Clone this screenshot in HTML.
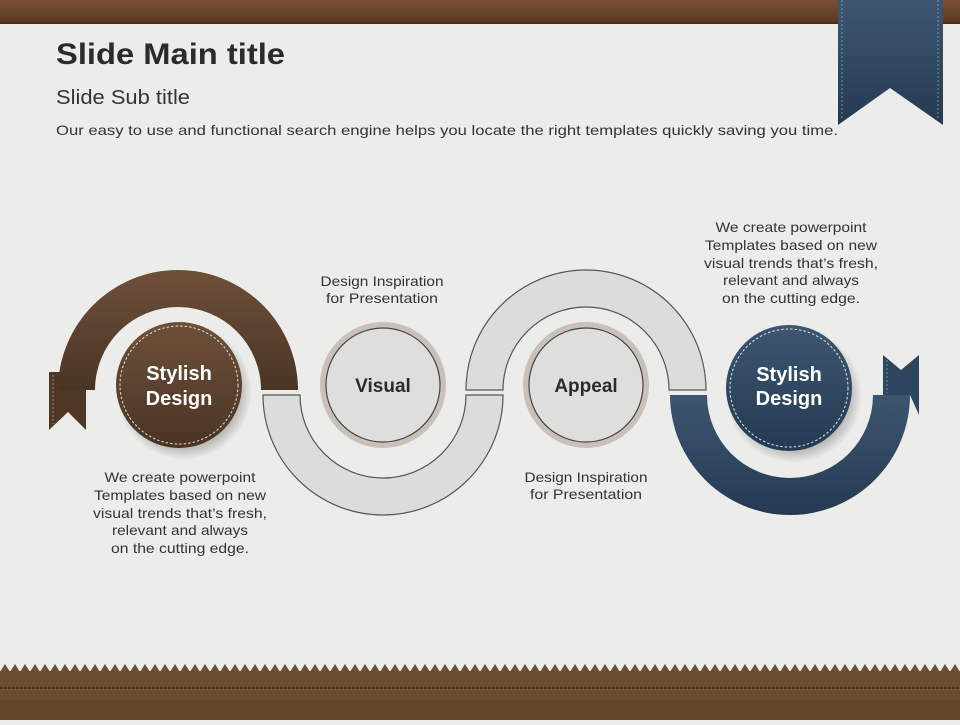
<!DOCTYPE html>
<html><head><meta charset="utf-8"><style>
html,body{margin:0;padding:0;}
body{width:960px;height:720px;overflow:hidden;background:#ececeb;font-family:"Liberation Sans","DejaVu Sans",sans-serif;}
</style></head><body>
<svg width="960" height="720" viewBox="0 0 960 720" xmlns="http://www.w3.org/2000/svg" font-family="Liberation Sans, DejaVu Sans, sans-serif">
<defs>
<linearGradient id="br" x1="0" y1="0" x2="0" y2="1"><stop offset="0" stop-color="#6e5039"/><stop offset="1" stop-color="#4a3424"/></linearGradient>
<linearGradient id="bl" x1="0" y1="0" x2="0" y2="1"><stop offset="0" stop-color="#3d5670"/><stop offset="1" stop-color="#243a52"/></linearGradient>
<linearGradient id="bar" x1="0" y1="0" x2="0" y2="1"><stop offset="0" stop-color="#7a4f34"/><stop offset="1" stop-color="#5a3620"/></linearGradient>
<radialGradient id="sh"><stop offset="0.7" stop-color="#000" stop-opacity="0.35"/><stop offset="1" stop-color="#000" stop-opacity="0"/></radialGradient>
<pattern id="zz" x="0" y="660" width="10" height="12" patternUnits="userSpaceOnUse"><polygon points="0,12 5,4 10,12" fill="#6b5038"/></pattern>
</defs>
<rect width="960" height="720" fill="#ececeb"/>
<rect x="0" y="0" width="960" height="24" fill="url(#bar)"/>
<rect x="0" y="22" width="960" height="2" fill="#4a2c18"/>
<polygon points="838,0 943,0 943,125 890,88 838,125" fill="url(#bl)"/>
<line x1="842" y1="0" x2="842" y2="118" stroke="#8ea3b8" stroke-dasharray="2,2" stroke-width="0.8"/>
<line x1="938" y1="0" x2="938" y2="118" stroke="#8ea3b8" stroke-dasharray="2,2" stroke-width="0.8"/>
<text x="56" y="64" font-size="30" font-weight="bold" fill="#2b2b2b" textLength="229" lengthAdjust="spacingAndGlyphs">Slide Main title</text>
<text x="56" y="104" font-size="20" fill="#333" textLength="134" lengthAdjust="spacingAndGlyphs">Slide Sub title</text>
<text x="56" y="135" font-size="14" fill="#333" textLength="782" lengthAdjust="spacingAndGlyphs">Our easy to use and functional search engine helps you locate the right templates quickly saving you time.</text>
<polygon points="49,372 86,372 86,430 68,412 49,430" fill="#4e3726"/>
<line x1="53" y1="375" x2="53" y2="424" stroke="#c9b8a6" stroke-dasharray="2,2" stroke-width="0.7"/>
<path d="M58 390 A120 120 0 0 1 298 390 L261 390 A83 83 0 0 0 95 390 Z" fill="url(#br)"/>
<path d="M263 395 A120 120 0 0 0 503 395 L466 395 A83 83 0 0 1 300 395 Z" fill="#dcdcdb" stroke="#555" stroke-width="1.2"/>
<path d="M466 390 A120 120 0 0 1 706 390 L669 390 A83 83 0 0 0 503 390 Z" fill="#dcdcdb" stroke="#555" stroke-width="1.2"/>
<path d="M670 395 A120 120 0 0 0 910 395 L873 395 A83 83 0 0 1 707 395 Z" fill="url(#bl)"/>
<polygon points="883,355 901,370 919,355 919,415 910,395 883,395" fill="#2e455e"/>
<line x1="887" y1="360" x2="887" y2="393" stroke="#8ea3b8" stroke-dasharray="2,2" stroke-width="0.7"/>
<circle cx="184" cy="392" r="68" fill="url(#sh)"/>
<circle cx="179" cy="385" r="63" fill="url(#br)"/>
<circle cx="179" cy="385" r="59" fill="none" stroke="#e8dccd" stroke-dasharray="2.5,2" stroke-width="1"/>
<text x="179" y="380" font-size="20" font-weight="bold" fill="#fff" text-anchor="middle">Stylish</text>
<text x="179" y="405" font-size="20" font-weight="bold" fill="#fff" text-anchor="middle">Design</text>
<circle cx="383" cy="385" r="63" fill="#c8c0b9"/>
<circle cx="383" cy="385" r="57" fill="#dededd" stroke="#444" stroke-width="1.2"/>
<text x="383" y="392" font-size="19" font-weight="bold" fill="#2b2b2b" text-anchor="middle">Visual</text>
<circle cx="586" cy="385" r="63" fill="#c8c0b9"/>
<circle cx="586" cy="385" r="57" fill="#dededd" stroke="#444" stroke-width="1.2"/>
<text x="586" y="392" font-size="19" font-weight="bold" fill="#2b2b2b" text-anchor="middle">Appeal</text>
<circle cx="794" cy="395" r="68" fill="url(#sh)"/>
<circle cx="789" cy="388" r="63" fill="url(#bl)"/>
<circle cx="789" cy="388" r="59" fill="none" stroke="#dfe6ee" stroke-dasharray="2.5,2" stroke-width="1"/>
<text x="789" y="381" font-size="20" font-weight="bold" fill="#fff" text-anchor="middle">Stylish</text>
<text x="789" y="405" font-size="20" font-weight="bold" fill="#fff" text-anchor="middle">Design</text>
<g font-size="14" fill="#333" text-anchor="middle" lengthAdjust="spacingAndGlyphs">
<text x="382" y="286" textLength="123" lengthAdjust="spacingAndGlyphs">Design Inspiration</text>
<text x="382" y="303" textLength="112" lengthAdjust="spacingAndGlyphs">for Presentation</text>
<text x="586" y="482" textLength="123" lengthAdjust="spacingAndGlyphs">Design Inspiration</text>
<text x="586" y="499" textLength="112" lengthAdjust="spacingAndGlyphs">for Presentation</text>
<text x="180" y="482" textLength="151" lengthAdjust="spacingAndGlyphs">We create powerpoint</text>
<text x="180" y="500" textLength="172" lengthAdjust="spacingAndGlyphs">Templates based on new</text>
<text x="180" y="518" textLength="174" lengthAdjust="spacingAndGlyphs">visual trends that’s fresh,</text>
<text x="180" y="535" textLength="136" lengthAdjust="spacingAndGlyphs">relevant and always</text>
<text x="180" y="553" textLength="138" lengthAdjust="spacingAndGlyphs">on the cutting edge.</text>
<text x="791" y="232" textLength="151" lengthAdjust="spacingAndGlyphs">We create powerpoint</text>
<text x="791" y="250" textLength="172" lengthAdjust="spacingAndGlyphs">Templates based on new</text>
<text x="791" y="268" textLength="174" lengthAdjust="spacingAndGlyphs">visual trends that’s fresh,</text>
<text x="791" y="285" textLength="136" lengthAdjust="spacingAndGlyphs">relevant and always</text>
<text x="791" y="303" textLength="138" lengthAdjust="spacingAndGlyphs">on the cutting edge.</text>
</g>
<rect x="0" y="660" width="960" height="12" fill="url(#zz)"/>
<rect x="0" y="671" width="960" height="49" fill="#6b4d32"/>
<rect x="0" y="700" width="960" height="20" fill="#634529"/>
<line x1="0" y1="688" x2="960" y2="688" stroke="#3e2a1a" stroke-width="1.5" stroke-dasharray="3,1"/>
<line x1="0" y1="689.5" x2="960" y2="689.5" stroke="#8a6a4c" stroke-width="0.6"/>
</svg>
</body></html>
